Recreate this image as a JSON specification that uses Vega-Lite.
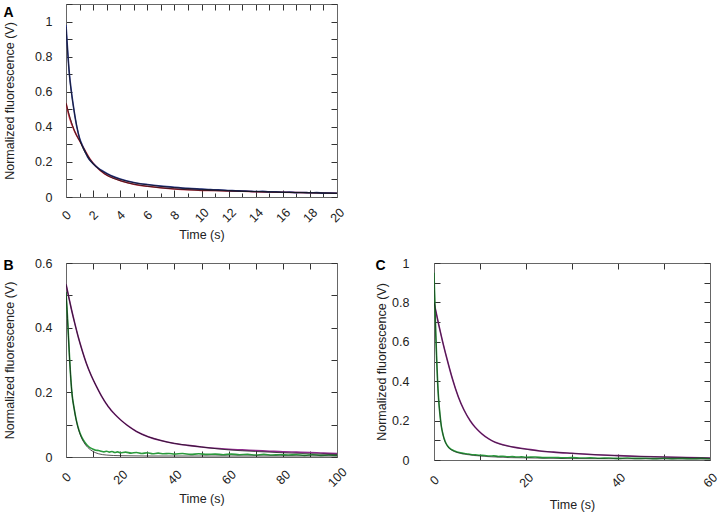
{
  "$schema": "https://vega.github.io/schema/vega-lite/v6.json",
  "padding": {"left": 3, "top": 3, "right": 0, "bottom": 1},
  "config": {
    "view": {"stroke": null},
    "font": "Liberation Sans",
    "axis": {
      "grid": false,
      "domainColor": "#666",
      "domainWidth": 1,
      "tickColor": "#333",
      "tickWidth": 1,
      "labelColor": "#222",
      "titleColor": "#222",
      "labelFont": "Liberation Sans",
      "titleFont": "Liberation Sans",
      "labelFontSize": 12.5,
      "titleFontSize": 12.5,
      "titleFontWeight": "normal"
    },
    "title": {"font": "Liberation Sans", "fontSize": 14, "fontWeight": "bold", "color": "#000"}
  },
  "datasets": {
    "A": [
      {"t":0,"v":0.535,"s":"red","k":"d"},{"t":0.27,"v":0.45,"s":"red","k":"d"},{"t":0.64,"v":0.374,"s":"red","k":"d"},{"t":1.08,"v":0.31,"s":"red","k":"d"},{"t":1.4,"v":0.265,"s":"red","k":"d"},{"t":1.75,"v":0.218,"s":"red","k":"d"},{"t":2.2,"v":0.175,"s":"red","k":"d"},{"t":2.85,"v":0.132,"s":"red","k":"d"},{"t":3.5,"v":0.108,"s":"red","k":"d"},{"t":4.08,"v":0.091,"s":"red","k":"d"},{"t":5,"v":0.073,"s":"red","k":"d"},{"t":6,"v":0.061,"s":"red","k":"d"},{"t":6.8,"v":0.054,"s":"red","k":"d"},{"t":8,"v":0.046,"s":"red","k":"d"},{"t":9,"v":0.041,"s":"red","k":"d"},{"t":10,"v":0.038,"s":"red","k":"d"},{"t":11,"v":0.037,"s":"red","k":"d"},{"t":12,"v":0.034,"s":"red","k":"d"},{"t":13,"v":0.033,"s":"red","k":"d"},{"t":14,"v":0.03,"s":"red","k":"d"},{"t":16,"v":0.027,"s":"red","k":"d"},{"t":18,"v":0.024,"s":"red","k":"d"},{"t":20,"v":0.021,"s":"red","k":"d"},
      {"t":0,"v":0.98,"s":"blue","k":"d"},{"t":0.1,"v":0.86,"s":"blue","k":"d"},{"t":0.25,"v":0.7,"s":"blue","k":"d"},{"t":0.4,"v":0.6,"s":"blue","k":"d"},{"t":0.6,"v":0.49,"s":"blue","k":"d"},{"t":0.8,"v":0.4,"s":"blue","k":"d"},{"t":1.0,"v":0.335,"s":"blue","k":"d"},{"t":1.2,"v":0.295,"s":"blue","k":"d"},{"t":1.4,"v":0.26,"s":"blue","k":"d"},{"t":1.6,"v":0.228,"s":"blue","k":"d"},{"t":2.0,"v":0.19,"s":"blue","k":"d"},{"t":2.4,"v":0.163,"s":"blue","k":"d"},{"t":2.7,"v":0.148,"s":"blue","k":"d"},{"t":3.3,"v":0.122,"s":"blue","k":"d"},{"t":4,"v":0.102,"s":"blue","k":"d"},{"t":5,"v":0.083,"s":"blue","k":"d"},{"t":6,"v":0.071,"s":"blue","k":"d"},{"t":7,"v":0.062,"s":"blue","k":"d"},{"t":8,"v":0.055,"s":"blue","k":"d"},{"t":9,"v":0.049,"s":"blue","k":"d"},{"t":10,"v":0.045,"s":"blue","k":"d"},{"t":10.5,"v":0.043,"s":"blue","k":"d"},{"t":11,"v":0.041,"s":"blue","k":"d"},{"t":11.5,"v":0.04,"s":"blue","k":"d"},{"t":12,"v":0.037,"s":"blue","k":"d"},{"t":12.5,"v":0.036,"s":"blue","k":"d"},{"t":13,"v":0.034,"s":"blue","k":"d"},{"t":13.5,"v":0.033,"s":"blue","k":"d"},{"t":14,"v":0.031,"s":"blue","k":"d"},{"t":14.5,"v":0.032,"s":"blue","k":"d"},{"t":15,"v":0.029,"s":"blue","k":"d"},{"t":15.5,"v":0.03,"s":"blue","k":"d"},{"t":16,"v":0.027,"s":"blue","k":"d"},{"t":16.5,"v":0.028,"s":"blue","k":"d"},{"t":17,"v":0.025,"s":"blue","k":"d"},{"t":17.5,"v":0.026,"s":"blue","k":"d"},{"t":18,"v":0.024,"s":"blue","k":"d"},{"t":18.5,"v":0.025,"s":"blue","k":"d"},{"t":19,"v":0.022,"s":"blue","k":"d"},{"t":19.5,"v":0.023,"s":"blue","k":"d"},{"t":20,"v":0.021,"s":"blue","k":"d"},
      {"t":0,"v":0.535,"s":"red","k":"f"},{"t":0.64,"v":0.374,"s":"red","k":"f"},{"t":1.08,"v":0.31,"s":"red","k":"f"},{"t":1.75,"v":0.218,"s":"red","k":"f"},{"t":2.85,"v":0.132,"s":"red","k":"f"},{"t":4.08,"v":0.091,"s":"red","k":"f"},{"t":6,"v":0.061,"s":"red","k":"f"},{"t":8,"v":0.046,"s":"red","k":"f"},{"t":10,"v":0.038,"s":"red","k":"f"},{"t":12,"v":0.034,"s":"red","k":"f"},{"t":16,"v":0.027,"s":"red","k":"f"},{"t":20,"v":0.021,"s":"red","k":"f"},
      {"t":0,"v":0.97,"s":"blue","k":"f"},{"t":0.25,"v":0.7,"s":"blue","k":"f"},{"t":0.6,"v":0.49,"s":"blue","k":"f"},{"t":1.0,"v":0.335,"s":"blue","k":"f"},{"t":1.6,"v":0.228,"s":"blue","k":"f"},{"t":2.4,"v":0.163,"s":"blue","k":"f"},{"t":3.3,"v":0.122,"s":"blue","k":"f"},{"t":4,"v":0.101,"s":"blue","k":"f"},{"t":5,"v":0.082,"s":"blue","k":"f"},{"t":6,"v":0.07,"s":"blue","k":"f"},{"t":8,"v":0.054,"s":"blue","k":"f"},{"t":10,"v":0.044,"s":"blue","k":"f"},{"t":12,"v":0.037,"s":"blue","k":"f"},{"t":14,"v":0.031,"s":"blue","k":"f"},{"t":16,"v":0.027,"s":"blue","k":"f"},{"t":18,"v":0.024,"s":"blue","k":"f"},{"t":20,"v":0.021,"s":"blue","k":"f"}
    ],
    "B": [
      {"t":0,"v":0.535,"s":"purple","k":"d"},{"t":1,"v":0.495,"s":"purple","k":"d"},{"t":2,"v":0.457,"s":"purple","k":"d"},{"t":3.2,"v":0.415,"s":"purple","k":"d"},{"t":4.5,"v":0.372,"s":"purple","k":"d"},{"t":5.7,"v":0.337,"s":"purple","k":"d"},{"t":7.5,"v":0.29,"s":"purple","k":"d"},{"t":9.3,"v":0.252,"s":"purple","k":"d"},{"t":11,"v":0.222,"s":"purple","k":"d"},{"t":13,"v":0.19,"s":"purple","k":"d"},{"t":15.5,"v":0.157,"s":"purple","k":"d"},{"t":18,"v":0.132,"s":"purple","k":"d"},{"t":20,"v":0.116,"s":"purple","k":"d"},{"t":22.9,"v":0.096,"s":"purple","k":"d"},{"t":26,"v":0.079,"s":"purple","k":"d"},{"t":30.3,"v":0.063,"s":"purple","k":"d"},{"t":35,"v":0.051,"s":"purple","k":"d"},{"t":40,"v":0.042,"s":"purple","k":"d"},{"t":45,"v":0.036,"s":"purple","k":"d"},{"t":50,"v":0.031,"s":"purple","k":"d"},{"t":55,"v":0.027,"s":"purple","k":"d"},{"t":60,"v":0.024,"s":"purple","k":"d"},{"t":65,"v":0.022,"s":"purple","k":"d"},{"t":70,"v":0.02,"s":"purple","k":"d"},{"t":75,"v":0.018,"s":"purple","k":"d"},{"t":80,"v":0.016,"s":"purple","k":"d"},{"t":85,"v":0.015,"s":"purple","k":"d"},{"t":90,"v":0.014,"s":"purple","k":"d"},{"t":95,"v":0.012,"s":"purple","k":"d"},{"t":100,"v":0.011,"s":"purple","k":"d"},
      {"t":0,"v":0.51,"s":"green","k":"d"},{"t":0.5,"v":0.44,"s":"green","k":"d"},{"t":0.74,"v":0.4,"s":"green","k":"d"},{"t":1.35,"v":0.3,"s":"green","k":"d"},{"t":2.2,"v":0.197,"s":"green","k":"d"},{"t":3,"v":0.15,"s":"green","k":"d"},{"t":3.8,"v":0.114,"s":"green","k":"d"},{"t":4.7,"v":0.085,"s":"green","k":"d"},{"t":5.7,"v":0.063,"s":"green","k":"d"},{"t":7,"v":0.045,"s":"green","k":"d"},{"t":8.1,"v":0.034,"s":"green","k":"d"},{"t":9,"v":0.028,"s":"green","k":"d"},{"t":10,"v":0.024,"s":"green","k":"d"},{"t":11,"v":0.021,"s":"green","k":"d"},{"t":12,"v":0.02,"s":"green","k":"d"},{"t":13,"v":0.018,"s":"green","k":"d"},{"t":14,"v":0.016,"s":"green","k":"d"},{"t":15,"v":0.018,"s":"green","k":"d"},{"t":16,"v":0.015,"s":"green","k":"d"},{"t":17,"v":0.017,"s":"green","k":"d"},{"t":18,"v":0.014,"s":"green","k":"d"},{"t":19,"v":0.016,"s":"green","k":"d"},{"t":20,"v":0.013,"s":"green","k":"d"},{"t":22,"v":0.015,"s":"green","k":"d"},{"t":24,"v":0.012,"s":"green","k":"d"},{"t":26,"v":0.014,"s":"green","k":"d"},{"t":28,"v":0.011,"s":"green","k":"d"},{"t":30,"v":0.013,"s":"green","k":"d"},{"t":32,"v":0.01,"s":"green","k":"d"},{"t":34,"v":0.012,"s":"green","k":"d"},{"t":36,"v":0.01,"s":"green","k":"d"},{"t":38,"v":0.011,"s":"green","k":"d"},{"t":40,"v":0.009,"s":"green","k":"d"},{"t":43,"v":0.011,"s":"green","k":"d"},{"t":46,"v":0.008,"s":"green","k":"d"},{"t":49,"v":0.01,"s":"green","k":"d"},{"t":52,"v":0.008,"s":"green","k":"d"},{"t":55,"v":0.009,"s":"green","k":"d"},{"t":58,"v":0.007,"s":"green","k":"d"},{"t":61,"v":0.009,"s":"green","k":"d"},{"t":64,"v":0.007,"s":"green","k":"d"},{"t":67,"v":0.008,"s":"green","k":"d"},{"t":70,"v":0.006,"s":"green","k":"d"},{"t":73,"v":0.008,"s":"green","k":"d"},{"t":76,"v":0.006,"s":"green","k":"d"},{"t":79,"v":0.007,"s":"green","k":"d"},{"t":82,"v":0.006,"s":"green","k":"d"},{"t":85,"v":0.007,"s":"green","k":"d"},{"t":88,"v":0.005,"s":"green","k":"d"},{"t":91,"v":0.007,"s":"green","k":"d"},{"t":94,"v":0.005,"s":"green","k":"d"},{"t":97,"v":0.006,"s":"green","k":"d"},{"t":100,"v":0.005,"s":"green","k":"d"},
      {"t":0,"v":0.535,"s":"purple","k":"f"},{"t":2,"v":0.457,"s":"purple","k":"f"},{"t":4.5,"v":0.372,"s":"purple","k":"f"},{"t":7.5,"v":0.29,"s":"purple","k":"f"},{"t":11,"v":0.222,"s":"purple","k":"f"},{"t":15.5,"v":0.157,"s":"purple","k":"f"},{"t":20,"v":0.116,"s":"purple","k":"f"},{"t":26,"v":0.079,"s":"purple","k":"f"},{"t":35,"v":0.051,"s":"purple","k":"f"},{"t":45,"v":0.036,"s":"purple","k":"f"},{"t":50,"v":0.031,"s":"purple","k":"f"},{"t":55,"v":0.026,"s":"purple","k":"f"},{"t":60,"v":0.022,"s":"purple","k":"f"},{"t":70,"v":0.017,"s":"purple","k":"f"},{"t":80,"v":0.013,"s":"purple","k":"f"},{"t":90,"v":0.01,"s":"purple","k":"f"},{"t":100,"v":0.008,"s":"purple","k":"f"},
      {"t":0,"v":0.51,"s":"green","k":"f"},{"t":0.74,"v":0.4,"s":"green","k":"f"},{"t":1.35,"v":0.3,"s":"green","k":"f"},{"t":2.2,"v":0.197,"s":"green","k":"f"},{"t":3,"v":0.15,"s":"green","k":"f"},{"t":3.8,"v":0.113,"s":"green","k":"f"},{"t":4.7,"v":0.083,"s":"green","k":"f"},{"t":5.7,"v":0.06,"s":"green","k":"f"},{"t":7,"v":0.04,"s":"green","k":"f"},{"t":8.1,"v":0.029,"s":"green","k":"f"},{"t":10,"v":0.017,"s":"green","k":"f"},{"t":12,"v":0.01,"s":"green","k":"f"},{"t":15,"v":0.006,"s":"green","k":"f"},{"t":20,"v":0.004,"s":"green","k":"f"},{"t":30,"v":0.003,"s":"green","k":"f"},{"t":100,"v":0.003,"s":"green","k":"f"}
    ],
    "C": [
      {"t":0,"v":0.8,"s":"purple","k":"d"},{"t":1,"v":0.69,"s":"purple","k":"d"},{"t":1.73,"v":0.615,"s":"purple","k":"d"},{"t":2.8,"v":0.515,"s":"purple","k":"d"},{"t":3.9,"v":0.42,"s":"purple","k":"d"},{"t":5.3,"v":0.32,"s":"purple","k":"d"},{"t":6.5,"v":0.255,"s":"purple","k":"d"},{"t":7.9,"v":0.198,"s":"purple","k":"d"},{"t":9,"v":0.165,"s":"purple","k":"d"},{"t":10.4,"v":0.133,"s":"purple","k":"d"},{"t":12,"v":0.106,"s":"purple","k":"d"},{"t":13.3,"v":0.09,"s":"purple","k":"d"},{"t":15,"v":0.077,"s":"purple","k":"d"},{"t":17.6,"v":0.064,"s":"purple","k":"d"},{"t":20,"v":0.056,"s":"purple","k":"d"},{"t":23,"v":0.046,"s":"purple","k":"d"},{"t":26,"v":0.04,"s":"purple","k":"d"},{"t":30,"v":0.034,"s":"purple","k":"d"},{"t":35,"v":0.027,"s":"purple","k":"d"},{"t":40,"v":0.022,"s":"purple","k":"d"},{"t":45,"v":0.018,"s":"purple","k":"d"},{"t":50,"v":0.015,"s":"purple","k":"d"},{"t":55,"v":0.012,"s":"purple","k":"d"},{"t":60,"v":0.01,"s":"purple","k":"d"},
      {"t":0,"v":0.95,"s":"green","k":"d"},{"t":0.2,"v":0.78,"s":"green","k":"d"},{"t":0.4,"v":0.63,"s":"green","k":"d"},{"t":0.6,"v":0.5,"s":"green","k":"d"},{"t":0.8,"v":0.39,"s":"green","k":"d"},{"t":1,"v":0.31,"s":"green","k":"d"},{"t":1.3,"v":0.23,"s":"green","k":"d"},{"t":1.6,"v":0.17,"s":"green","k":"d"},{"t":2,"v":0.125,"s":"green","k":"d"},{"t":2.45,"v":0.093,"s":"green","k":"d"},{"t":3,"v":0.07,"s":"green","k":"d"},{"t":3.9,"v":0.052,"s":"green","k":"d"},{"t":5,"v":0.041,"s":"green","k":"d"},{"t":6.1,"v":0.035,"s":"green","k":"d"},{"t":7,"v":0.032,"s":"green","k":"d"},{"t":8,"v":0.028,"s":"green","k":"d"},{"t":9,"v":0.026,"s":"green","k":"d"},{"t":10,"v":0.024,"s":"green","k":"d"},{"t":11,"v":0.023,"s":"green","k":"d"},{"t":12,"v":0.02,"s":"green","k":"d"},{"t":13,"v":0.021,"s":"green","k":"d"},{"t":14,"v":0.018,"s":"green","k":"d"},{"t":15,"v":0.019,"s":"green","k":"d"},{"t":16,"v":0.016,"s":"green","k":"d"},{"t":17,"v":0.017,"s":"green","k":"d"},{"t":18,"v":0.015,"s":"green","k":"d"},{"t":19,"v":0.016,"s":"green","k":"d"},{"t":20,"v":0.014,"s":"green","k":"d"},{"t":22,"v":0.015,"s":"green","k":"d"},{"t":24,"v":0.012,"s":"green","k":"d"},{"t":26,"v":0.013,"s":"green","k":"d"},{"t":28,"v":0.011,"s":"green","k":"d"},{"t":30,"v":0.012,"s":"green","k":"d"},{"t":32,"v":0.01,"s":"green","k":"d"},{"t":34,"v":0.011,"s":"green","k":"d"},{"t":36,"v":0.009,"s":"green","k":"d"},{"t":38,"v":0.01,"s":"green","k":"d"},{"t":40,"v":0.008,"s":"green","k":"d"},{"t":42,"v":0.01,"s":"green","k":"d"},{"t":44,"v":0.008,"s":"green","k":"d"},{"t":46,"v":0.009,"s":"green","k":"d"},{"t":48,"v":0.007,"s":"green","k":"d"},{"t":50,"v":0.009,"s":"green","k":"d"},{"t":52,"v":0.007,"s":"green","k":"d"},{"t":54,"v":0.008,"s":"green","k":"d"},{"t":56,"v":0.006,"s":"green","k":"d"},{"t":58,"v":0.008,"s":"green","k":"d"},{"t":60,"v":0.006,"s":"green","k":"d"},
      {"t":0,"v":0.8,"s":"purple","k":"f"},{"t":1,"v":0.69,"s":"purple","k":"f"},{"t":2.8,"v":0.515,"s":"purple","k":"f"},{"t":5.3,"v":0.32,"s":"purple","k":"f"},{"t":7.9,"v":0.198,"s":"purple","k":"f"},{"t":10.4,"v":0.133,"s":"purple","k":"f"},{"t":13.3,"v":0.09,"s":"purple","k":"f"},{"t":17.6,"v":0.064,"s":"purple","k":"f"},{"t":23,"v":0.046,"s":"purple","k":"f"},{"t":30,"v":0.034,"s":"purple","k":"f"},{"t":40,"v":0.022,"s":"purple","k":"f"},{"t":50,"v":0.015,"s":"purple","k":"f"},{"t":60,"v":0.01,"s":"purple","k":"f"},
      {"t":0,"v":0.95,"s":"green","k":"f"},{"t":0.4,"v":0.63,"s":"green","k":"f"},{"t":0.8,"v":0.39,"s":"green","k":"f"},{"t":1.3,"v":0.23,"s":"green","k":"f"},{"t":2,"v":0.125,"s":"green","k":"f"},{"t":3,"v":0.068,"s":"green","k":"f"},{"t":4,"v":0.048,"s":"green","k":"f"},{"t":5,"v":0.038,"s":"green","k":"f"},{"t":7,"v":0.028,"s":"green","k":"f"},{"t":10,"v":0.02,"s":"green","k":"f"},{"t":15,"v":0.013,"s":"green","k":"f"},{"t":20,"v":0.01,"s":"green","k":"f"},{"t":30,"v":0.007,"s":"green","k":"f"},{"t":40,"v":0.006,"s":"green","k":"f"},{"t":60,"v":0.005,"s":"green","k":"f"}
    ]
  },
  "columns": 2,
  "align": "each",
  "spacing": {"row": 15, "column": 26},
  "concat": [
    {
      "title": {"text": "A", "anchor": "start", "frame": "bounds", "baseline": "bottom", "offset": -30},
      "width": 271, "height": 193,
      "data": {"name": "A"},
      "resolve": {"axis": {"x": "independent", "y": "independent"}},
      "layer": [
        {
          "transform": [{"filter": "datum.k === 'd'"}],
          "mark": {"type": "line", "strokeWidth": 1.6, "clip": true, "interpolate": "monotone"},
          "encoding": {
            "x": {"field": "t", "type": "quantitative", "scale": {"domain": [0, 20], "nice": false},
              "axis": {"orient": "bottom", "title": "Time (s)", "values": [0,1,2,3,4,5,6,7,8,9,10,11,12,13,14,15,16,17,18,19,20],
                "labelExpr": "datum.value % 2 === 0 ? datum.label : ''",
                "tickSize": {"condition": {"test": "datum.value % 2 === 0", "value": -7}, "value": -4},
                "labelPadding": 25, "labelAngle": -45, "labelAlign": "center", "labelBaseline": "middle", "titlePadding": 4}},
            "y": {"field": "v", "type": "quantitative", "scale": {"domain": [0, 1.1], "nice": false},
              "axis": {"orient": "left", "title": "Normalized fluorescence (V)", "values": [0,0.1,0.2,0.3,0.4,0.5,0.6,0.7,0.8,0.9,1,1.1],
                "labelExpr": "round(datum.value*10) % 2 === 0 ? format(datum.value, '~g') : ''",
                "tickSize": -6, "labelPadding": 20, "titlePadding": 18}},
            "color": {"field": "s", "type": "nominal", "legend": null,
              "scale": {"domain": ["red", "blue", "purple", "green"], "range": ["#c8283c", "#2a3890", "#8e2a8c", "#2a9a3c"]}}
          }
        },
        {
          "transform": [{"filter": "datum.k === 'f'"}],
          "mark": {"type": "line", "strokeWidth": 0.9, "color": "#111", "opacity": 0.8, "clip": true, "interpolate": "monotone"},
          "encoding": {
            "x": {"field": "t", "type": "quantitative",
              "axis": {"orient": "top", "title": null, "labels": false, "values": [0,1,2,3,4,5,6,7,8,9,10,11,12,13,14,15,16,17,18,19,20], "tickSize": -6}},
            "y": {"field": "v", "type": "quantitative",
              "axis": {"orient": "right", "title": null, "labels": false, "values": [0,0.1,0.2,0.3,0.4,0.5,0.6,0.7,0.8,0.9,1,1.1], "tickSize": -6}},
            "detail": {"field": "s"}
          }
        }
      ]
    },
    {
      "width": 10, "height": 10,
      "data": {"values": []},
      "mark": "point",
      "encoding": {}
    },
    {
      "title": {"text": "B", "anchor": "start", "frame": "bounds", "baseline": "bottom", "offset": -30},
      "width": 271, "height": 194,
      "data": {"name": "B"},
      "resolve": {"axis": {"x": "independent", "y": "independent"}},
      "layer": [
        {
          "transform": [{"filter": "datum.k === 'd'"}],
          "mark": {"type": "line", "strokeWidth": 1.6, "clip": true, "interpolate": "monotone"},
          "encoding": {
            "x": {"field": "t", "type": "quantitative", "scale": {"domain": [0, 100], "nice": false},
              "axis": {"orient": "bottom", "title": "Time (s)", "values": [0,10,20,30,40,50,60,70,80,90,100],
                "labelExpr": "datum.value % 20 === 0 ? datum.label : ''",
                "tickSize": -6, "labelPadding": 26, "labelAngle": -45, "labelAlign": "center", "labelBaseline": "middle", "titlePadding": 4}},
            "y": {"field": "v", "type": "quantitative", "scale": {"domain": [0, 0.6], "nice": false},
              "axis": {"orient": "left", "title": "Normalized fluorescence (V)", "values": [0,0.1,0.2,0.3,0.4,0.5,0.6],
                "labelExpr": "round(datum.value*10) % 2 === 0 ? format(datum.value, '~g') : ''",
                "tickSize": -6, "labelPadding": 20, "titlePadding": 18}},
            "color": {"field": "s", "type": "nominal", "legend": null,
              "scale": {"domain": ["red", "blue", "purple", "green"], "range": ["#c8283c", "#2a3890", "#8e2a8c", "#2a9a3c"]}}
          }
        },
        {
          "transform": [{"filter": "datum.k === 'f'"}],
          "mark": {"type": "line", "strokeWidth": 0.9, "color": "#111", "opacity": 0.8, "clip": true, "interpolate": "monotone"},
          "encoding": {
            "x": {"field": "t", "type": "quantitative",
              "axis": {"orient": "top", "title": null, "labels": false, "values": [0,10,20,30,40,50,60,70,80,90,100], "tickSize": -6}},
            "y": {"field": "v", "type": "quantitative",
              "axis": {"orient": "right", "title": null, "labels": false, "values": [0,0.1,0.2,0.3,0.4,0.5,0.6], "tickSize": -6}},
            "detail": {"field": "s"}
          }
        }
      ]
    },
    {
      "title": {"text": "C", "anchor": "start", "frame": "bounds", "baseline": "bottom", "offset": -30},
      "width": 276, "height": 197,
      "data": {"name": "C"},
      "resolve": {"axis": {"x": "independent", "y": "independent"}},
      "layer": [
        {
          "transform": [{"filter": "datum.k === 'd'"}],
          "mark": {"type": "line", "strokeWidth": 1.6, "clip": true, "interpolate": "monotone"},
          "encoding": {
            "x": {"field": "t", "type": "quantitative", "scale": {"domain": [0, 60], "nice": false},
              "axis": {"orient": "bottom", "title": "Time (s)", "values": [0,10,20,30,40,50,60],
                "labelExpr": "datum.value % 20 === 0 ? datum.label : ''",
                "tickSize": -6, "labelPadding": 26, "labelAngle": -45, "labelAlign": "center", "labelBaseline": "middle", "titlePadding": 9}},
            "y": {"field": "v", "type": "quantitative", "scale": {"domain": [0, 1], "nice": false},
              "axis": {"orient": "left", "title": "Normalized fluorescence (V)", "values": [0,0.1,0.2,0.3,0.4,0.5,0.6,0.7,0.8,0.9,1],
                "labelExpr": "round(datum.value*10) % 2 === 0 ? format(datum.value, '~g') : ''",
                "tickSize": -6, "labelPadding": 31, "titlePadding": 3}},
            "color": {"field": "s", "type": "nominal", "legend": null,
              "scale": {"domain": ["red", "blue", "purple", "green"], "range": ["#c8283c", "#2a3890", "#8e2a8c", "#2a9a3c"]}}
          }
        },
        {
          "transform": [{"filter": "datum.k === 'f'"}],
          "mark": {"type": "line", "strokeWidth": 0.9, "color": "#111", "opacity": 0.6, "clip": true, "interpolate": "monotone"},
          "encoding": {
            "x": {"field": "t", "type": "quantitative",
              "axis": {"orient": "top", "title": null, "labels": false, "values": [0,10,20,30,40,50,60], "tickSize": -6}},
            "y": {"field": "v", "type": "quantitative",
              "axis": {"orient": "right", "title": null, "labels": false, "values": [0,0.1,0.2,0.3,0.4,0.5,0.6,0.7,0.8,0.9,1], "tickSize": -6}},
            "detail": {"field": "s"}
          }
        }
      ]
    }
  ]
}
